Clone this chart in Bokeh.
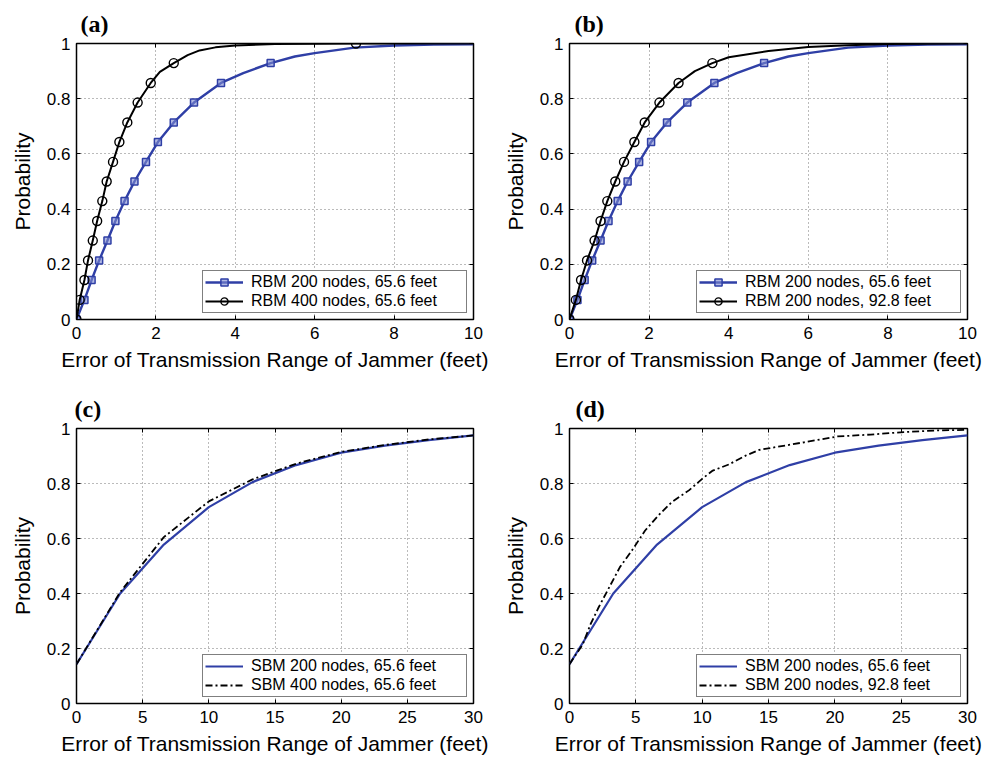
from bokeh.plotting import figure
from bokeh.models import Range1d, FixedTicker, LinearAxis, Legend, LegendItem, Title, CustomJSTickFormatter
from bokeh.layouts import column, row
from bokeh.embed import file_html
from bokeh.resources import INLINE

# ---------------- data ----------------
# RBM 200 nodes, 65.6 feet (panels a, b)
rbm200_mk_x = [0, 0.2, 0.38, 0.57, 0.78, 0.98, 1.21, 1.46, 1.75, 2.05, 2.45, 2.96, 3.64, 4.89]
rbm200_mk_y = [0, 0.071, 0.143, 0.214, 0.286, 0.357, 0.429, 0.5, 0.571, 0.643, 0.714, 0.786, 0.857, 0.929]
rbm200_ln_x = [0, 0.2, 0.38, 0.57, 0.78, 0.98, 1.21, 1.46, 1.75, 2.05, 2.45, 2.96, 3.64, 4.2, 4.89, 5.5, 6.0, 7.0, 8.0, 9.0, 10.0]
rbm200_ln_y = [0, 0.071, 0.143, 0.214, 0.286, 0.357, 0.429, 0.5, 0.571, 0.643, 0.714, 0.786, 0.857, 0.893, 0.929, 0.953, 0.965, 0.985, 0.993, 0.996, 0.997]

# RBM 400 nodes, 65.6 feet (panel a)
rbm400_mk_x = [0, 0.08, 0.2, 0.29, 0.41, 0.52, 0.65, 0.76, 0.92, 1.08, 1.28, 1.54, 1.87, 2.45, 7.04]
rbm400_mk_y = [0, 0.071, 0.143, 0.214, 0.286, 0.357, 0.429, 0.5, 0.571, 0.643, 0.714, 0.786, 0.857, 0.929, 1.0]
rbm400_ln_x = [0, 0.08, 0.2, 0.29, 0.41, 0.52, 0.65, 0.76, 0.92, 1.08, 1.28, 1.54, 1.87, 2.1, 2.45, 2.8, 3.1, 3.5, 4.0, 5.0, 7.04, 10.0]
rbm400_ln_y = [0, 0.071, 0.143, 0.214, 0.286, 0.357, 0.429, 0.5, 0.571, 0.643, 0.714, 0.786, 0.857, 0.897, 0.929, 0.958, 0.975, 0.986, 0.993, 0.998, 1.0, 1.0]

# RBM 200 nodes, 92.8 feet (panel b)
rbm928_mk_x = [0, 0.16, 0.29, 0.44, 0.63, 0.78, 0.95, 1.15, 1.37, 1.63, 1.89, 2.26, 2.74, 3.59]
rbm928_mk_y = [0, 0.071, 0.143, 0.214, 0.286, 0.357, 0.429, 0.5, 0.571, 0.643, 0.714, 0.786, 0.857, 0.929]
rbm928_ln_x = [0, 0.16, 0.29, 0.44, 0.63, 0.78, 0.95, 1.15, 1.37, 1.63, 1.89, 2.26, 2.74, 3.15, 3.59, 4.0, 5.0, 6.0, 7.0, 8.0, 10.0]
rbm928_ln_y = [0, 0.071, 0.143, 0.214, 0.286, 0.357, 0.429, 0.5, 0.571, 0.643, 0.714, 0.786, 0.857, 0.9, 0.929, 0.95, 0.973, 0.987, 0.994, 0.998, 1.0]

# SBM 200 nodes, 65.6 feet (panels c, d)
sbm200_x = [0, 3.3, 6.6, 10, 13.3, 16.6, 20, 23.3, 26.6, 30]
sbm200_y = [0.143, 0.40, 0.578, 0.714, 0.805, 0.867, 0.912, 0.938, 0.958, 0.975]

# SBM 400 nodes, 65.6 feet (panel c)
sbm400_x = [0, 3.3, 6.6, 10, 13.3, 16.6, 20, 23.3, 26.6, 30]
sbm400_y = [0.143, 0.405, 0.605, 0.735, 0.815, 0.872, 0.915, 0.94, 0.96, 0.975]

# SBM 200 nodes, 92.8 feet (panel d)
sbm928_x = [0, 1.0, 1.6, 2.2, 3.0, 3.8, 4.7, 5.7, 6.7, 7.7, 9.0, 10.0, 10.8, 12.0, 13.3, 14.3, 15.5, 17.7, 20.2, 22.7, 25.2, 27.7, 30]
sbm928_y = [0.143, 0.215, 0.29, 0.35, 0.423, 0.496, 0.556, 0.629, 0.684, 0.732, 0.775, 0.817, 0.847, 0.869, 0.902, 0.922, 0.932, 0.950, 0.971, 0.978, 0.987, 0.993, 0.995]

x_ticks_ab = [0, 2, 4, 6, 8, 10]
x_labels_ab = ["0", "2", "4", "6", "8", "10"]
x_ticks_cd = [0, 5, 10, 15, 20, 25, 30]
x_labels_cd = ["0", "5", "10", "15", "20", "25", "30"]
y_ticks = [0, 0.2, 0.4, 0.6, 0.8, 1]
y_labels = ["0", "0.2", "0.4", "0.6", "0.8", "1"]

panel_tags = ["(a)", "(b)", "(c)", "(d)"]
x_title = "Error of Transmission Range of Jammer (feet)"
y_title = "Probability"

# ---------------- styling ----------------
BLUE = "#2F3FA6"
FONT = "Liberation Sans"
EMPTY = CustomJSTickFormatter(code="return ''")


def make_fig(tag, xmax, xt, xl, fw, fh, bl, br, bt, bb, title_off):
    p = figure(frame_width=fw, frame_height=fh, min_border_left=bl, min_border_right=br,
               min_border_top=bt, min_border_bottom=bb,
               x_range=Range1d(0, xmax), y_range=Range1d(0, 1),
               output_backend="svg", toolbar_location=None, tools="")
    p.title = Title(text=tag, align="left", offset=title_off, text_font="Liberation Serif",
                    text_font_style="bold", text_font_size="24px", text_color="black", standoff=13)
    p.outline_line_color = "black"
    p.outline_line_width = 1.5
    p.background_fill_color = "white"
    p.border_fill_color = "white"
    p.xaxis.ticker = FixedTicker(ticks=xt)
    p.yaxis.ticker = FixedTicker(ticks=y_ticks)
    p.xaxis.major_label_overrides = dict(zip(xt, xl))
    p.yaxis.major_label_overrides = dict(zip(y_ticks, y_labels))
    for ax in (p.xaxis[0], p.yaxis[0]):
        ax.axis_line_color = None
        ax.major_tick_in = 4
        ax.major_tick_out = 0
        ax.major_tick_line_color = "black"
        ax.minor_tick_line_color = None
        ax.major_label_text_font = FONT
        ax.major_label_text_font_size = "17px"
        ax.major_label_text_color = "black"
        ax.axis_label_text_font = FONT
        ax.axis_label_text_font_size = "21px"
        ax.axis_label_text_font_style = "normal"
        ax.axis_label_text_color = "black"
    p.xaxis.axis_label = x_title
    p.yaxis.axis_label = y_title
    p.xaxis.major_label_standoff = 7
    p.xaxis.axis_label_standoff = 6
    p.yaxis.major_label_standoff = 6
    p.yaxis.axis_label_standoff = 10
    for loc, tk in (("right", y_ticks), ("above", xt)):
        ax = LinearAxis(ticker=FixedTicker(ticks=tk), formatter=EMPTY, axis_line_color=None,
                        major_tick_in=4, major_tick_out=0, minor_tick_line_color=None,
                        major_label_standoff=0)
        p.add_layout(ax, loc)
    p.xgrid.ticker = FixedTicker(ticks=xt)
    p.ygrid.ticker = FixedTicker(ticks=y_ticks)
    for g in (p.xgrid[0], p.ygrid[0]):
        g.grid_line_color = "#555555"
        g.grid_line_dash = "1 3"
        g.grid_line_width = 1
        g.grid_line_alpha = 0.8
    return p


def add_legend(p, items):
    lg = Legend(items=items, location="bottom_right", margin=6, padding=2, spacing=1,
                glyph_width=38, glyph_height=18, label_height=18, label_width=213,
                label_standoff=8, label_text_font=FONT, label_text_font_size="16px",
                label_text_color="black", border_line_color="black", border_line_width=1.5,
                background_fill_color="white", background_fill_alpha=1)
    p.add_layout(lg, "center")


# (a)
pa = make_fig(panel_tags[0], 10, x_ticks_ab, x_labels_ab, 397, 276, 76, 25, 43, 60, 4)
la1 = pa.line(rbm200_ln_x, rbm200_ln_y, line_color=BLUE, line_width=2.4)
ma1 = pa.scatter(rbm200_mk_x, rbm200_mk_y, marker="square", size=7, line_color=BLUE,
                 fill_color="#7F8BD0", fill_alpha=0.6, line_width=1.5)
la2 = pa.line(rbm400_ln_x, rbm400_ln_y, line_color="black", line_width=2)
ma2 = pa.scatter(rbm400_mk_x, rbm400_mk_y, marker="circle", size=9, line_color="black",
                 fill_color=None, line_width=1.4)
add_legend(pa, [LegendItem(label="RBM 200 nodes, 65.6 feet", renderers=[la1, ma1]),
                LegendItem(label="RBM 400 nodes, 65.6 feet", renderers=[la2, ma2])])

# (b)
pb = make_fig(panel_tags[1], 10, x_ticks_ab, x_labels_ab, 398, 276, 71, 17, 43, 60, 5)
lb1 = pb.line(rbm200_ln_x, rbm200_ln_y, line_color=BLUE, line_width=2.4)
mb1 = pb.scatter(rbm200_mk_x, rbm200_mk_y, marker="square", size=7, line_color=BLUE,
                 fill_color="#7F8BD0", fill_alpha=0.6, line_width=1.5)
lb2 = pb.line(rbm928_ln_x, rbm928_ln_y, line_color="black", line_width=2)
mb2 = pb.scatter(rbm928_mk_x, rbm928_mk_y, marker="circle", size=9, line_color="black",
                 fill_color=None, line_width=1.4)
add_legend(pb, [LegendItem(label="RBM 200 nodes, 65.6 feet", renderers=[lb1, mb1]),
                LegendItem(label="RBM 200 nodes, 92.8 feet", renderers=[lb2, mb2])])

# (c)
pc = make_fig(panel_tags[2], 30, x_ticks_cd, x_labels_cd, 397, 275, 76, 25, 49, 54, -2)
lc1 = pc.line(sbm200_x, sbm200_y, line_color=BLUE, line_width=2.2)
lc2 = pc.line(sbm400_x, sbm400_y, line_color="black", line_width=1.8, line_dash="7 3 2 3")
add_legend(pc, [LegendItem(label="SBM 200 nodes, 65.6 feet", renderers=[lc1]),
                LegendItem(label="SBM 400 nodes, 65.6 feet", renderers=[lc2])])

# (d)
pd_ = make_fig(panel_tags[3], 30, x_ticks_cd, x_labels_cd, 398, 275, 71, 17, 49, 54, 6)
ld1 = pd_.line(sbm200_x, sbm200_y, line_color=BLUE, line_width=2.2)
ld2 = pd_.line(sbm928_x, sbm928_y, line_color="black", line_width=1.8, line_dash="7 3 2 3")
add_legend(pd_, [LegendItem(label="SBM 200 nodes, 65.6 feet", renderers=[ld1]),
                 LegendItem(label="SBM 200 nodes, 92.8 feet", renderers=[ld2])])

layout = column(row(pa, pb), row(pc, pd_))
open("out.html", "w").write(file_html(layout, INLINE))
